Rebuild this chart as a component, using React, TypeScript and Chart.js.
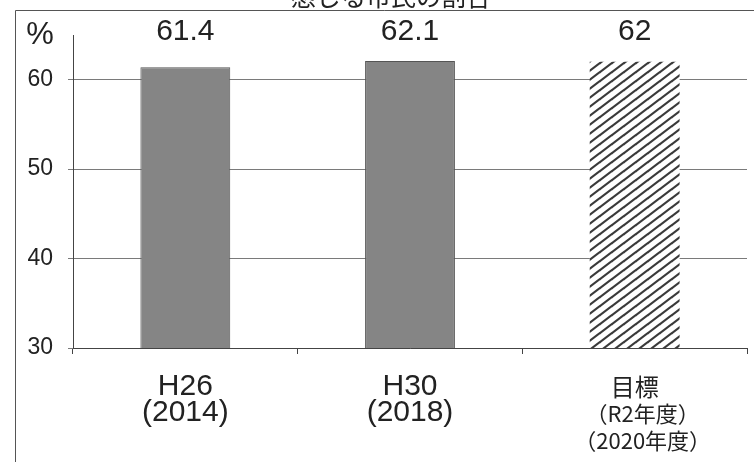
import React, { useEffect, useRef } from "react";
import { Chart, registerables } from "chart.js";

Chart.register(...registerables);

const titleText = "感じる市民の割合";
const unitLabel = "%";
const categories: string[][] = [["H26", "(2014)"], ["H30", "(2018)"], ["目標"]];
const targetSubLabels = ["（R2年度）", "（2020年度）"];
const values = [61.4, 62.1, 62];
const yTicks = [30, 40, 50, 60];
const yMin = 30;
const yMax = 65;

const LATIN = "'Liberation Sans', Arial, sans-serif";
const CJK = "'Noto Sans CJK JP', sans-serif";

function makeHatch(): CanvasPattern | string {
  const c = document.createElement("canvas");
  c.width = 12;
  c.height = 9;
  const g = c.getContext("2d");
  if (!g) return "#ffffff";
  g.fillStyle = "#ffffff";
  g.fillRect(0, 0, 12, 9);
  g.strokeStyle = "#3a3a3a";
  g.lineWidth = 2.2;
  for (let k = 0; k <= 2; k++) {
    g.beginPath();
    g.moveTo(-2, 9 * k + 1.5);
    g.lineTo(14, 9 * k - 10.5);
    g.stroke();
  }
  const p = g.createPattern(c, "repeat");
  return p || "#ffffff";
}

const decorPlugin = {
  id: "decor",
  beforeDraw(chart: any) {
    const ctx = chart.ctx;
    ctx.save();
    ctx.fillStyle = "#ffffff";
    ctx.fillRect(0, 0, chart.width, chart.height);
    // outer frame
    ctx.strokeStyle = "#555555";
    ctx.lineWidth = 1;
    ctx.beginPath();
    ctx.moveTo(15.5, chart.height);
    ctx.lineTo(15.5, 10.5);
    ctx.lineTo(chart.width, 10.5);
    ctx.stroke();
    // cut-off title
    ctx.fillStyle = "#222222";
    ctx.font = `25px ${CJK}`;
    ctx.textAlign = "center";
    ctx.textBaseline = "alphabetic";
    ctx.fillText(titleText, chart.width / 2 + 14, 6);
    // unit
    ctx.font = `31px ${LATIN}`;
    ctx.textBaseline = "middle";
    ctx.fillText(unitLabel, 40, 35);
    ctx.restore();
  },
  afterDatasetsDraw(chart: any) {
    const ctx = chart.ctx;
    const meta = chart.getDatasetMeta(0);
    const area = chart.chartArea;
    ctx.save();
    ctx.fillStyle = "#222222";
    ctx.textAlign = "center";
    ctx.textBaseline = "middle";
    ctx.font = `30px ${LATIN}`;
    meta.data.forEach((el: any, i: number) => {
      ctx.fillText(String(values[i]), el.x, area.top - 3);
    });
    const xs = chart.scales.x;
    const cx = xs.getPixelForValue(2) + 8;
    ctx.font = `22px ${CJK}`;
    ctx.fillText(targetSubLabels[0], cx, area.bottom + 65.5);
    ctx.fillText(targetSubLabels[1], cx, area.bottom + 93);
    ctx.restore();
  },
};

export default function App() {
  const ref = useRef<HTMLCanvasElement | null>(null);
  useEffect(() => {
    if (!ref.current) return;
    const hatch = makeHatch();
    const chart = new Chart(ref.current, {
      type: "bar",
      data: {
        labels: categories,
        datasets: [
          {
            data: values,
            backgroundColor: ["#858585", "#858585", hatch as any],
            borderColor: ["#555555", "#555555", "rgba(0,0,0,0)"],
            borderWidth: [1, 1, 0],
            barPercentage: 0.4,
            categoryPercentage: 1,
          },
        ],
      },
      options: {
        animation: false,
        responsive: true,
        maintainAspectRatio: false,
        layout: { padding: { top: 35, right: 7, left: 0, bottom: 0 } },
        plugins: {
          legend: { display: false },
          tooltip: { enabled: false },
          title: { display: false },
        },
        scales: {
          x: {
            offset: true,
            grid: {
              display: true,
              drawOnChartArea: false,
              drawTicks: true,
              tickLength: 6,
              color: "#444444",
              offset: true,
            },
            border: { display: true, color: "#444444", width: 1 },
            ticks: {
              color: "#222222",
              padding: 20,
              maxRotation: 0,
              autoSkip: false,
              font: (ctx: any) =>
                ctx.index === 2
                  ? { family: CJK, size: 24, lineHeight: 1.08 }
                  : { family: LATIN, size: 30, lineHeight: 0.87 },
            },
            afterFit: (scale: any) => {
              scale.height = 114;
            },
          },
          y: {
            min: yMin,
            max: yMax,
            grid: {
              color: "#7a7a7a",
              lineWidth: 1,
              drawTicks: true,
              tickLength: 5,
            },
            border: { display: true, color: "#444444", width: 1 },
            ticks: {
              stepSize: 10,
              color: "#222222",
              padding: 15,
              font: { family: LATIN, size: 23 },
            },
            afterBuildTicks: (scale: any) => {
              scale.ticks = yTicks.map((v) => ({ value: v }));
            },
            afterFit: (scale: any) => {
              scale.width = 73;
            },
          },
        },
      },
      plugins: [decorPlugin],
    });
    return () => chart.destroy();
  }, []);
  return (
    <div style={{ position: "fixed", left: 0, top: 0, width: 754, height: 462, background: "#fff" }}>
      <canvas ref={ref} />
    </div>
  );
}
